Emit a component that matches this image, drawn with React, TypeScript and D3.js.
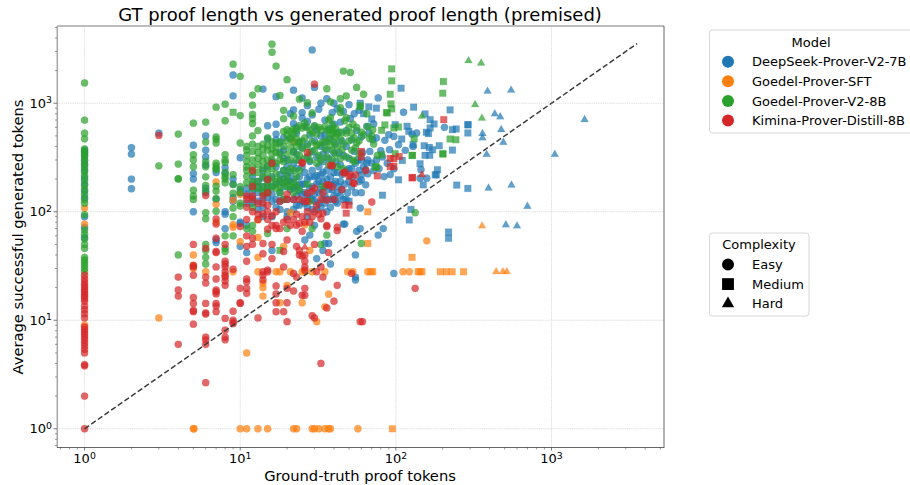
import React from "react";
import * as d3 from "d3";

type P = [number, number];

const models = ["DeepSeek-Prover-V2-7B", "Goedel-Prover-SFT", "Goedel-Prover-V2-8B", "Kimina-Prover-Distill-8B"];
const modelColors = ["#1f77b4", "#ff7f0e", "#2ca02c", "#d62728"];
const complexities = ["Easy", "Medium", "Hard"];
const xTicks = [1, 10, 100, 1000];
const yTicks = [1, 10, 100, 1000];
const diagonal: P = [1, 3550];

const blueEasy: P[] = [
[1,370],[1,350],[1,330],[1,300],[1,270],[1,240],[1,205],[1,180],[1,155],[1,135],[1,90],[1,72],[1,58],
[2,390],[2,340],[2,200],[2,163],[3,530],[5,410],[5,225],[5,200],[5,100],[6,500],[6,370],[6,320],[6,270],[6,165],[6,150],[7,230],[7,55],[7,52],[7,130],
[8,255],[8,225],[8,100],[8,95],[8,70],[9,1820],[9,1170],[9,200],[9,180],[9,135],[9,125],[10,315],[10,160],[10,150],[10,48],[10,80],[10,78],[11,75],[11,42],[11,120],[11,165],[11,145],
[12,210],[12,180],[12,155],[12,120],[12,135],[13,190],[13,150],[13,125],[13,105],[13,170],[14,1350],[14,240],[14,205],[14,170],[14,130],[14,110],[14,90],[14,150],[15,620],[15,470],[15,260],[15,175],[15,135],[15,150],[15,200],[16,290],[16,210],[16,125],[16,44],[16,90],[16,170],[16,145],
[17,1150],[17,640],[17,520],[17,460],[17,260],[17,180],[17,110],[17,130],[18,430],[18,350],[18,220],[18,150],[18,105],[18,125],[18,190],[19,480],[19,370],[19,310],[19,240],[19,130],[19,170],[19,200],[20,300],[20,260],[20,190],[20,100],[20,90],[20,130],[20,215],
[21,800],[21,470],[21,230],[21,160],[21,190],[22,1320],[22,870],[22,650],[22,360],[22,280],[22,200],[22,165],[22,130],[22,105],[23,600],[23,530],[23,340],[23,250],[23,140],[23,170],[23,115],[24,440],[24,300],[24,210],[24,115],[24,155],[24,180],[25,1120],[25,820],[25,730],[25,390],[25,260],[25,180],[25,125],[25,145],[26,610],[26,230],[26,150],[26,55],[26,180],[26,120],[27,950],[27,680],[27,420],[27,320],[27,200],[27,90],[27,140],[27,110],[28,510],[28,290],[28,165],[28,61],[28,135],[28,210],
[29,3100],[29,780],[29,360],[29,240],[29,130],[29,170],[29,105],[30,1400],[30,610],[30,450],[30,75],[30,210],[30,145],[30,125],[31,570],[31,320],[31,180],[31,37],[31,215],[31,105],[32,880],[32,260],[32,150],[32,190],[32,120],[33,500],[33,400],[33,1000],[33,220],[33,110],[33,160],[34,44],[34,340],[34,290],[34,190],[34,130],[34,230],[35,700],[35,510],[35,51],[35,440],[35,140],[35,170],[35,120],[36,1100],[36,370],[36,240],[36,100],[36,200],[37,51],[37,580],[37,310],[37,160],[37,130],[38,33],[38,470],[38,210],[38,180],[38,110],[39,820],[39,260],[39,130],[39,160],
[40,1000],[40,640],[40,350],[40,180],[40,140],[40,230],[41,420],[41,290],[41,125],[41,190],[42,890],[42,230],[42,150],[42,120],[43,540],[43,350],[43,170],[44,670],[44,270],[44,190],[44,140],[45,450],[45,160],[45,220],[46,840],[46,330],[46,77],[46,130],[47,77],[47,230],[47,180],[48,560],[48,400],[48,130],[48,240],[49,150],[50,970],[50,310],[50,190],[50,250],[51,720],[52,460],[52,250],[52,170],[53,210],[54,800],[54,360],[55,40],[55,25],[55,23.5],[55,150],[55,280],[56,66],[56,560],[57,300],[58,860],[58,190],[58,240],[59,70],[59,108],[60,219],[60,197],[60,150],[60,490],[60,300],[61,350],[62,260],
[64,244],[64,177],[65,281],[65,613],[66,224],[66,300],[67,532],[68,360],[70,281],[71,462],[72,644],[72,240],[75,478],[75,300],[77,1120],[77,61],[78,250],[80,365],[82,320],[83,70],[84,211],[85,455],[88,280],[90,513],[91,373],[92,220],[97,249],[97,495],[97,27],[104,415],[112,826],[115,368],[127,520],[129,400],[136,532],[143,204],[145,244],[158,204],[205,600],
];
const blueMedium: P[] = [
[108,1376],[130,920],[223,868],[154,797],[166,706],[176,644],[166,592],[157,540],[162,525],[118,613],[121,551],[109,468],[152,406],[129,415],[164,392],[172,373],[190,406],[231,370],[154,331],[165,331],[110,297],[143,277],[185,244],[182,219],[104,197],[150,177],[179,219],[246,176],[290,164],[82,142],[125,105],[122,84],[290,635],[291,632],[244,579],[231,571],[290,532],[67,925],[70,716],[99,635],[218,65],[218,57],[59,1000],[62,800],[75,900],[50,125],
];
const blueHard: P[] = [
[388,1291],[550,1319],[432,797],[468,748],[475,571],[360,525],[360,478],[490,436],[383,338],[1630,706],[1050,338],[394,165],[553,176],[700,112],[509,75.7],[600,74],
];

const orangeEasy: P[] = [
[1,108],[1,77],[1,9],[3,10.5],[5,40],[5,32],[5,30],[6,28],[7,117],[7,188],[7,80],[9,128],[9,72],[9,28],[10,145],[10,53],[9,76],[11,5],
[13,84],[13,38],[13,28],[13,58],[14,22],[14,20],[14,16.7],[17,28],[18,28],[18,14.5],[19,48],[20,21],[21,28],[21,98],[22,445],[25,28],[25,14.5],[26,28],[26,76],[28,44],[29,28],[35,28],[35,13.3],[37,17.4],[31,9.7],[49,28],[53,28],[66,28],[111,28],[122,28],[158,54],
[5,1],[5.05,1],[10,1],[11,1],[13,1],[15,1],[22,1],[23,1],[29,1],[30,1],[32,1],[35,1],[37,1],[38,1],[57,1],
];
const orangeMedium: P[] = [
[66,100],[66,51],[127,38],[69,28],[71,28],[139,28],[143,28],[147,28],[193,28],[211,28],[230,28],[272,28],[95,1],
];
const orangeHard: P[] = [[358,74],[441,28],[487,28],[516,28]];

const greenEasy: P[] = [
[1,1540],[1,700],[1,530],[1,470],[1,380],[1,360],[1,340],[1,320],[1,295],[1,275],[1,255],[1,235],[1,215],[1,195],[1,175],[1,160],[1,145],[1,130],[1,120],[1,94],[1,68],[1,62],[1,56],[1,50],[1,46],[1,38],[1,36],[1,34],[1,32],[1,30],[1,28],
[3,265],[4,520],[4,275],[4,202],[4,200],[4,40],[5,655],[5,335],[5,300],[5,260],[5,158],[5,140],[5,130],
[6,670],[6,440],[6,290],[6,260],[6,210],[6,175],[6,155],[6,98],[6,86],[6,50],[6,44],[6,38],[6,33],
[7,920],[7,490],[7,465],[7,430],[7,280],[7,265],[7,250],[7,245],[7,172],[7,155],[7,133],[7,101],
[8,980],[8,690],[8,335],[8,300],[8,285],[8,230],[8,210],[8,200],[8,185],[8,60],[8,46],[8,43],
[9,2290],[9,220],[9,178],[9,148],[9,108],[9,90],[9,60],[10,1770],[10,770],[10,430],[10,120],[10,113],[10,170],[10,150],
[11,400],[11,370],[11,330],[11,290],[11,260],[11,240],[11,212],[11,185],[11,70],[12,1190],[12,960],[12,790],[12,720],[12,650],[12,500],[12,420],[12,360],[12,300],[12,260],[12,230],[12,190],[12,165],[12,110],[12,75],[12,66],
[13,1360],[13,560],[13,400],[13,350],[13,310],[13,270],[13,230],[13,190],[13,165],[14,420],[14,380],[14,330],[14,290],[14,250],[14,210],[14,170],[14,150],[15,480],[15,410],[15,370],[15,300],[15,265],[15,225],[15,190],[15,165],[15,150],[15,63],
[16,3500],[16,2950],[16,440],[16,380],[16,340],[16,300],[16,250],[16,200],[16,170],[17,2200],[17,430],[17,390],[17,350],[17,280],[17,225],[17,190],[17,165],[18,1180],[18,440],[18,340],[18,300],[18,200],[18,170],[18,150],
[19,860],[19,720],[19,550],[19,400],[19,290],[19,240],[19,185],[19,130],[20,1650],[20,570],[20,510],[20,450],[20,340],[20,215],[20,190],[20,170],[20,70],
[21,550],[21,480],[21,390],[21,300],[21,250],[21,170],[22,760],[22,580],[22,520],[22,440],[22,350],[22,240],[22,185],[22,150],[23,560],[23,470],[23,400],[23,300],[23,210],[23,175],[24,1090],[24,620],[24,430],[24,330],[24,240],[24,160],[25,590],[25,450],[25,380],
[26,660],[26,480],[26,310],[27,1010],[27,600],[27,400],[27,180],[28,560],[28,350],[28,300],[28,125],[29,815],[29,530],[29,440],[29,70],[30,620],[30,370],[31,520],[31,410],[31,280],
[32,600],[32,420],[32,330],[33,570],[33,300],[33,50],[34,440],[34,170],[35,610],[35,380],[36,1360],[36,560],[36,440],[36,320],[36,61],[37,700],[37,480],[37,270],
[38,1030],[38,735],[38,560],[38,410],[39,635],[39,580],[39,520],[39,370],[39,300],[40,540],[40,440],[41,590],[41,490],[41,340],[42,520],[42,400],[42,260],[44,1100],[44,910],[44,820],[44,470],[44,310],[45,540],[45,370],[46,1980],[46,420],[46,250],[47,690],[48,1170],[48,735],[48,530],[48,320],[50,600],[50,450],[51,1920],[52,530],[52,370],[53,640],[54,480],[54,290],[55,390],[56,1400],[56,600],[56,430],[58,450],[58,340],[60,540],[60,51],[62,1210],[62,510],[65,800],[66,610],[68,470],[70,500],[71,570],[72,420],[76,330],[133,98],
];
const greenMedium: P[] = [
[94,2075],[94,1608],[202,1586],[92,1210],[200,1237],[93,986],[94,887],[88,814],[85,631],[81,563],[97,592],[104,604],[223,468],[243,461],[131,471],[128,331],[200,343],[81,335],[75,258],[99,343],[59,925],[9,826],[18,44],[59,950],[87,820],[53,300],[74,260],[127,330],[201,340],
];
const greenHard: P[] = [[293,2460],[353,2340],[323,970],[147,758],[357,727]];

const redEasy: P[] = [
[1,1],[1,2],[1,3.9],[1,3.8],[1,5],[1,5.4],[1,5.8],[1,6.2],[1,6.6],[1,7],[1,7.4],[1,7.8],[1,8.2],[1,8.7],[1,10.5],[1,11.5],[1,12.5],[1,13.5],[1,15],[1,15.8],[1,16.6],[1,17.4],[1,18.3],[1,19.2],[1,20.2],[1,21.2],[1,22.5],[1,24],[1,26],
[3,505],[4,25],[4,19],[4,16.7],[4,6],[5,50],[5,32],[5,31],[5,26],[5,16.2],[5,14.3],[5,12.3],[5,12],[5,9.2],[6,141],[6,46],[6,25],[6,22],[6,14.3],[6,11.7],[6,11.4],[6,7],[6,6.6],[6,6],[6,2.66],
[7,86],[7,77],[7,57],[7,43],[7,42],[7,31],[7,24],[7,19],[7,18.3],[7,17.5],[7,14.3],[7,13.5],[7,12],[8,50],[8,35],[8,33],[8,31],[8,28],[8,26],[8,25],[8,23],[8,21],[8,10.4],[8,8.1],[8,7],[8,6.6],
[9,29.5],[9,12.1],[9,10],[9,9.6],[9,9.3],[10,73],[10,19.7],[10,14.5],[10,14.3],[11,110],[11,60],[11,48],[11,35],[11,24],[11,22.6],[11,19.7],[11,17.7],[11,140],[11,130],[11,85],[12,240],[12,171],[12,140],[12,130],[12,100],[12,57],[12,50],[13,10.5],[13,95],[13,85],[13,120],
[14,140],[14,95],[14,51],[14,41],[14,28],[14,26],[14,23.5],[14,120],[15,198],[15,150],[15,115],[15,100],[15,85],[15,29],[15,28],[15,69],[16,280],[16,92],[16,75],[16,50],[16,37],[17,100],[17,75],[17,70],[17,20.7],[17,17.5],[17,14.5],[17,12],[18,125],[18,70],[19,80],[19,43],[19,31],[19,12],[20,145],[20,130],[20,85],[20,55],[20,19.7],[20,14.5],[20,9.7],
[21,75],[22,130],[22,85],[22,18.6],[22,27],[23,95],[23,75],[23,48],[23,25],[24,130],[24,78],[24,44],[24,40],[25,285],[25,280],[25,90],[25,66],[25,39],[25,17],[26,125],[26,80],[26,40],[26,35],[26,31],[26,29],[26,17],[26,19.7],[27,350],[27,148],[27,125],[27,100],[28,80],[29,155],[29,90],[29,11],[30,1500],[30,165],[30,100],[30,50],[30,10.5],[31,115],[31,28],[32,95],[33,130],[33,86],[33,31],[33,4],[34,150],[34,97],[34,25],[36,177],[36,128],[36,75],[36,73],[36,13],[37,177],[37,42],[38,267],[39,170],[39,267],[40,130],[40,15],[42,72],[42,67],[42,21],[45,160],[46,228],[47,232],[50,212],[51,218],[52,27],[53,185],[54,182],[55,218],[59,9.7],[61,9.7],[64,240],[70,123],[133,19.7],
];
const redMedium: P[] = [
[203,706],[105,323],[97,308],[97,262],[76,214],[128,207],[60,360],[60,320],[47,115],[50,115],[48,97],[92,310],[92,260],[127,205],
];
const redHard: P[] = [[147,219],[26,47]];

const seriesByModel: P[][][] = [
  [blueEasy, blueMedium, blueHard],
  [orangeEasy, orangeMedium, orangeHard],
  [greenEasy, greenMedium, greenHard],
  [redEasy, redMedium, redHard],
];

const W = 910, H = 485;
const x = d3.scaleLog().domain([0.668, 5280]).range([57.3, 664]);
const y = d3.scaleLog().domain([0.672, 5150]).range([447.5, 26]);

const symbolFor = (c: number, size: number) =>
  d3.symbol().type(c === 0 ? d3.symbolCircle : c === 1 ? d3.symbolSquare : d3.symbolTriangle).size(size)() as string;

const minors = (scale: d3.ScaleLogarithmic<number, number>) => {
  const out: number[] = [];
  const [a, b] = scale.domain();
  for (let d = 0.1; d < b; d *= 10) {
    for (let m = 2; m <= 9; m++) {
      const v = d * m;
      if (v >= a && v <= b) out.push(v);
    }
  }
  return out;
};

const Pow = ({ v }: { v: number }) => (
  <>
    10<tspan dy={-4.5} fontSize={9.3}>{Math.round(Math.log10(v))}</tspan>
  </>
);

export default function App() {
  const font = "'DejaVu Sans', sans-serif";
  const grid = "#dcdcdc";
  const spine = "#555";
  const pale = "#a6a6a6";
  return (
    <svg width={W} height={H} viewBox={`0 0 ${W} ${H}`} fontFamily={font}
      style={{ position: "absolute", left: 0, top: 0, display: "block", background: "#fff" }}>
      {xTicks.map((t) => (
        <line key={t} x1={x(t)} x2={x(t)} y1={26} y2={447} stroke={grid} strokeWidth={0.9} strokeDasharray="1.4 0.8" />
      ))}
      {yTicks.map((t) => (
        <line key={t} x1={57} x2={664} y1={y(t)} y2={y(t)} stroke={grid} strokeWidth={0.9} strokeDasharray="1.4 0.8" />
      ))}
      {seriesByModel.map((group, m) =>
        group.map((pts, c) => (
          <g key={`${m}-${c}`} fill={modelColors[m]} fillOpacity={0.7} stroke={modelColors[m]} strokeOpacity={0.2} strokeWidth={0.6}>
            {pts.map(([px, py], i) => (
              <path key={i} transform={`translate(${x(px)},${y(py)})`} d={symbolFor(c, c === 0 ? 42 : c === 1 ? 46 : 27)} />
            ))}
          </g>
        ))
      )}
      <line x1={x(diagonal[0])} y1={y(diagonal[0])} x2={x(diagonal[1])} y2={y(diagonal[1])}
        stroke="#3c3c3c" strokeWidth={1.5} strokeDasharray="5.5 2.6" />
      <line x1={57.3} x2={664} y1={26} y2={26} stroke={pale} strokeWidth={1.5} />
      <line x1={57.3} x2={57.3} y1={26} y2={447.5} stroke={pale} strokeWidth={1.5} />
      <line x1={664} x2={664} y1={26} y2={447.5} stroke={spine} strokeWidth={0.9} />
      <line x1={57} x2={664.4} y1={447.5} y2={447.5} stroke={spine} strokeWidth={0.9} />
      {minors(x).map((t) => <line key={t} x1={x(t)} x2={x(t)} y1={447} y2={449.5} stroke={spine} strokeWidth={0.6} />)}
      {minors(y).map((t) => <line key={t} x1={55} x2={57} y1={y(t)} y2={y(t)} stroke={spine} strokeWidth={0.6} />)}
      {xTicks.map((t) => (
        <g key={t}>
          <line x1={x(t)} x2={x(t)} y1={447} y2={450.5} stroke={spine} strokeWidth={0.8} />
          <text x={x(t)} y={463} textAnchor="middle" fontSize={13} fill="#000"><Pow v={t} /></text>
        </g>
      ))}
      {yTicks.map((t) => (
        <g key={t}>
          <line x1={53.5} x2={57} y1={y(t)} y2={y(t)} stroke={spine} strokeWidth={0.8} />
          <text x={52} y={y(t) + 4.7} textAnchor="end" fontSize={13} fill="#000"><Pow v={t} /></text>
        </g>
      ))}
      <text x={360} y={21} textAnchor="middle" fontSize={18} fill="#000">GT proof length vs generated proof length (premised)</text>
      <text x={360} y={481} textAnchor="middle" fontSize={14.7} fill="#000">Ground-truth proof tokens</text>
      <text transform="translate(23,237) rotate(-90)" textAnchor="middle" fontSize={14.7} fill="#000">Average successful generated tokens</text>

      <rect x={709.5} y={30} width={230} height={103} rx={3} fill="#fff" stroke="#d8d8d8" />
      <text x={811} y={46.5} textAnchor="middle" fontSize={13}>Model</text>
      {models.map((name, i) => (
        <g key={name}>
          <circle cx={728} cy={61.7 + i * 19.6} r={6} fill={modelColors[i]} />
          <text x={752} y={66.4 + i * 19.6} fontSize={13}>{name}</text>
        </g>
      ))}
      <rect x={709.5} y={233} width={99.5} height={83} rx={3} fill="#fff" stroke="#d8d8d8" />
      <text x={759} y={249} textAnchor="middle" fontSize={13}>Complexity</text>
      {complexities.map((name, i) => (
        <g key={name}>
          <path transform={`translate(728,${264.5 + i * 19.6})`} d={symbolFor(i, i === 0 ? 113 : i === 1 ? 140 : 66)} fill="#000" />
          <text x={752} y={269.2 + i * 19.6} fontSize={13}>{name}</text>
        </g>
      ))}
    </svg>
  );
}
